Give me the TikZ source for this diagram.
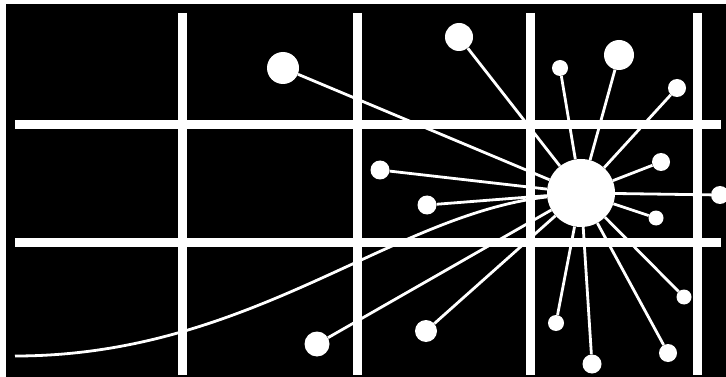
\documentclass[tikz,border=0pt]{standalone}
\begin{document}
\begin{tikzpicture}[x=1pt,y=-1pt,
  grid/.style={draw=white,line width=9pt},
  spoke/.style={draw=white,line width=2.8pt},
  dot/.style={circle,fill=white,draw=none,inner sep=0pt,minimum size=#1},
]
\useasboundingbox (0,0) rectangle (726,377);
\fill[black] (6,4) rectangle (726,377);
% grid lines
\coordinate (v1t) at (182,13); \coordinate (v1b) at (182,375);
\coordinate (v2t) at (357,13); \coordinate (v2b) at (357,375);
\coordinate (v3t) at (530,13); \coordinate (v3b) at (530,375);
\coordinate (v4t) at (697,13); \coordinate (v4b) at (697,375);
\coordinate (h1l) at (15,125); \coordinate (h1r) at (721,125);
\coordinate (h2l) at (15,242); \coordinate (h2r) at (721,242);
\draw[grid] (v1t) -- (v1b);
\draw[grid] (v2t) -- (v2b);
\draw[grid] (v3t) -- (v3b);
\draw[grid] (v4t) -- (v4b);
\draw[grid] (h1l) -- (h1r);
\draw[grid] (h2l) -- (h2r);
% hub and dots
\node[dot=68pt] (hub) at (581,193) {};
\node[dot=32pt] (d1) at (283,68) {};
\node[dot=28pt] (d2) at (459,37) {};
\node[dot=16pt] (d3) at (560,68) {};
\node[dot=30pt] (d4) at (619,55) {};
\node[dot=18pt] (d5) at (677,88) {};
\node[dot=18pt] (d6) at (661,162) {};
\node[dot=19pt] (d7) at (380,170) {};
\node[dot=18pt] (d8) at (720,195) {};
\node[dot=15pt] (d9) at (656,218) {};
\node[dot=19pt] (d10) at (427,205) {};
\node[dot=15pt] (d11) at (684,297) {};
\node[dot=16pt] (d12) at (556,323) {};
\node[dot=19pt] (d13) at (592,364) {};
\node[dot=18pt] (d14) at (668,353) {};
\node[dot=22pt] (d15) at (426,331) {};
\node[dot=25pt] (d16) at (317,344) {};
% spokes
\foreach \n in {d1,d2,d3,d4,d5,d6,d7,d8,d9,d10,d11,d12,d13,d14,d15,d16}
  \draw[spoke] (\n) -- (hub);
% long curve
\coordinate (cstart) at (15,356);
\draw[spoke] (cstart) .. controls (250,356) and (390,215) .. (hub);
\end{tikzpicture}
\end{document}
